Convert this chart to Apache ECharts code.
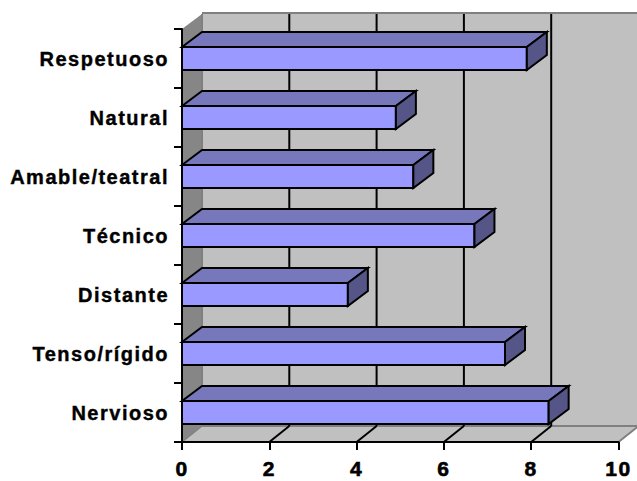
<!DOCTYPE html>
<html>
<head>
<meta charset="utf-8">
<style>
    html, body {margin: 0; padding: 0; background: #fff;}
    #chart {width: 637px; height: 481px;}
    /* the labels of the original are spaced wide */
    #chart text {letter-spacing: 1.5px;}
</style>
<script src="https://cdn.jsdelivr.net/npm/echarts@6/dist/echarts.min.js"></script>
</head>
<body>
<div id="chart"></div>
<script>
    var categories = ['Nervioso', 'Tenso/rígido', 'Distante', 'Técnico', 'Amable/teatral', 'Natural', 'Respetuoso'];
    var values = [8.4, 7.4, 3.8, 6.7, 5.3, 4.9, 7.9];
    var xTicks = [0, 2, 4, 6, 8, 10];

    //3D look
    var wallDX = 20, wallDY = 16;
    var barDX = 20, barDY = 15;
    var barHeight = 23;

    var myChart = echarts.init(document.getElementById('chart'), null, {renderer: 'svg'});

    var poly = function (points, fill, stroke, lineWidth) {
        return {
            type: 'polygon',
            shape: {points: points},
            style: {fill: fill, stroke: stroke || null, lineWidth: lineWidth || 0, lineJoin: 'miter'}
        };
    };
    var line = function (x1, y1, x2, y2, color, width) {
        return {
            type: 'line',
            shape: {x1: x1, y1: y1, x2: x2, y2: y2},
            style: {stroke: color, lineWidth: width}
        };
    };

    // walls, floor and grid lines, from the axis scales
    var renderWalls = function (params, api) {
        var rect = params.coordSys;
        var top = rect.y, bottom = rect.y + rect.height, left = rect.x, right = rect.x + rect.width;
        var backBottom = bottom - wallDY, backTop = top - wallDY + 1;
        var items = [
            poly([[left + wallDX, backTop], [right + wallDX, backTop], [right + wallDX, backBottom], [left + wallDX, backBottom]], '#c0c0c0'),
            poly([[left, top], [left + wallDX, backTop], [left + wallDX, backBottom], [left, bottom]], '#868686'),
            poly([[left, bottom], [right, bottom], [right + wallDX, backBottom], [left + wallDX, backBottom]], '#c0c0c0'),
            line(left + wallDX, backTop - 1, right + wallDX, backTop - 1, '#808080', 2),
            line(left + wallDX, backTop, left + wallDX, backBottom, '#808080', 2),
            line(left + wallDX, backBottom, right + wallDX, backBottom, '#808080', 2),
            line(left, bottom, left + wallDX, backBottom, '#808080', 1.5),
            line(right, bottom, right + wallDX, backBottom, '#808080', 2)
        ];
        for (var i = 1; i < xTicks.length - 1; i++) {
            var x = api.coord([xTicks[i], 0])[0];
            items.push(line(x + wallDX, backTop, x + wallDX, backBottom, '#000', 2));
            items.push(line(x, bottom, x + wallDX, backBottom, '#000', 2));
        }
        return {type: 'group', children: items};
    };

    var renderBar = function (params, api) {
        var end = api.coord([api.value(0), api.value(1)]);
        var start = api.coord([0, api.value(1)]);
        var y1 = end[1] - barHeight / 2, y2 = end[1] + barHeight / 2;
        return {
            type: 'group',
            children: [
                poly([[start[0], y1], [end[0], y1], [end[0], y2], [start[0], y2]], '#9999ff', '#000', 2),
                poly([[start[0], y1], [start[0] + barDX, y1 - barDY], [end[0] + barDX, y1 - barDY], [end[0], y1]], '#7777bb', '#000', 2),
                poly([[end[0], y1], [end[0] + barDX, y1 - barDY], [end[0] + barDX, y2 - barDY], [end[0], y2]], '#555588', '#000', 2)
            ]
        };
    };

    var barData = [];
    for (var i = 0; i < categories.length; i++) {
        barData.push([values[i], i]);
    }

    var option = {
        animation: false,
        grid: {left: 182, right: 18.5, top: 29, bottom: 39, containLabel: false, outerBoundsMode: 'none'},
        xAxis: {
            type: 'value',
            min: 0,
            max: 10,
            interval: 2,
            z: 5,
            splitLine: {show: false},
            axisLine: {show: true, lineStyle: {color: '#000', width: 2}},
            axisTick: {show: true, length: 8, lineStyle: {color: '#000', width: 2}},
            axisLabel: {
                color: '#000',
                fontFamily: '"Liberation Sans", Arial, sans-serif',
                fontWeight: 'bold',
                fontSize: 21,
                lineHeight: 18,
                textBorderColor: '#000',
                textBorderWidth: 0.6,
                margin: 17
            }
        },
        yAxis: {
            type: 'category',
            data: categories,
            z: 5,
            axisLine: {show: true, lineStyle: {color: '#000', width: 2}},
            axisTick: {show: true, length: 8, lineStyle: {color: '#000', width: 2}},
            axisLabel: {
                color: '#000',
                fontFamily: '"Liberation Sans", Arial, sans-serif',
                fontWeight: 'bold',
                fontSize: 20,
                textBorderColor: '#000',
                textBorderWidth: 0.4,
                margin: 13
            }
        },
        series: [
            {
                name: 'walls',
                type: 'custom',
                renderItem: renderWalls,
                data: [0],
                silent: true,
                z: 1
            },
            {
                name: 'bars',
                type: 'custom',
                renderItem: renderBar,
                encode: {x: 0, y: 1},
                data: barData,
                z: 3
            }
        ]
    };
    myChart.setOption(option);
</script>
</body>
</html>
